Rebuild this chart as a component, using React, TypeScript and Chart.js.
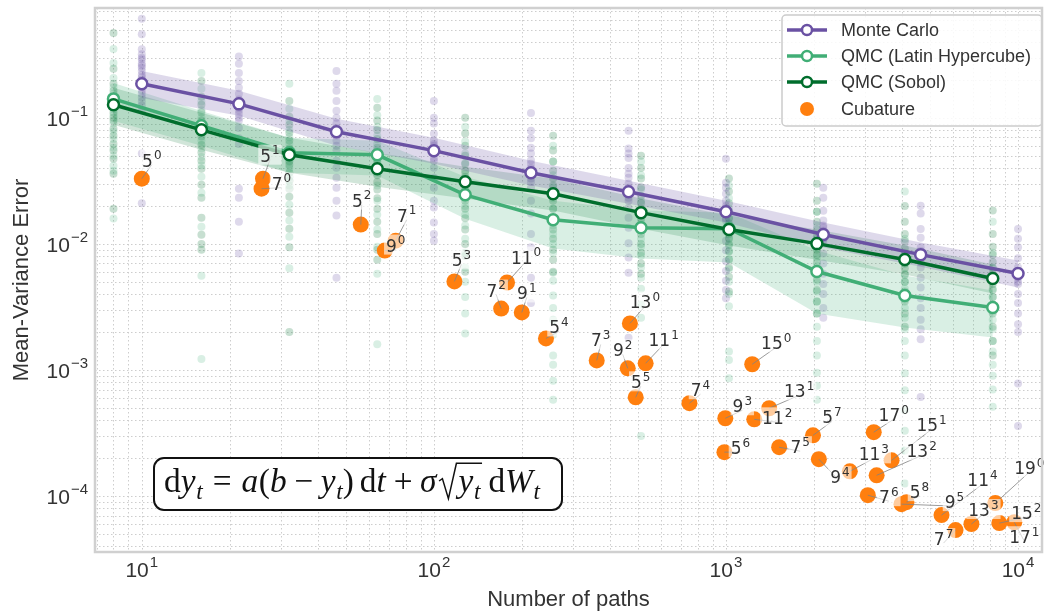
import React, { useEffect, useRef } from "react";
import { Chart, registerables } from "chart.js";

Chart.register(...registerables);

// ---------- axis limits and tick labels ----------
const X_MIN = 6.915;
const X_MAX = 12080;
const Y_MIN = 3.6e-5;
const Y_MAX = 0.743;
const xTickExp = [1, 2, 3, 4];
const yTickExp = [-1, -2, -3, -4];

// ---------- Monte Carlo ----------
const mcPaths = [10, 21.5, 46.4, 100, 215, 464, 1000, 2154, 4642, 10000];
const mcMean = [0.186, 0.129, 0.0775, 0.0549, 0.0367, 0.0259, 0.018, 0.01186, 0.00822, 0.00582];
const mcUpper = [0.2355, 0.1637, 0.0982, 0.0695, 0.0457, 0.0317, 0.022, 0.01476, 0.01024, 0.00738];
const mcLower = [0.1439, 0.1038, 0.06, 0.0432, 0.029, 0.0208, 0.01476, 0.00935, 0.0066, 0.00451];
const mcRuns = [
  [0.61, 0.46, 0.35, 0.32, 0.3, 0.29, 0.27, 0.26, 0.25, 0.235, 0.22, 0.21, 0.2, 0.185, 0.175, 0.165, 0.155, 0.145, 0.135, 0.125, 0.115, 0.052, 0.021],
  [0.306, 0.268, 0.227, 0.196, 0.173, 0.155, 0.14, 0.136, 0.13, 0.12, 0.115, 0.107, 0.1, 0.095, 0.083, 0.069, 0.062, 0.0274, 0.0232, 0.015, 0.0084],
  [0.235, 0.186, 0.164, 0.136, 0.114, 0.1, 0.09, 0.083, 0.078, 0.072, 0.066, 0.06, 0.055, 0.0457, 0.0401, 0.0334, 0.0279, 0.022, 0.0168, 0.0054],
  [0.136, 0.1, 0.09, 0.0748, 0.066, 0.062, 0.06, 0.055, 0.052, 0.048, 0.0457, 0.0401, 0.0334, 0.0279, 0.022, 0.0194, 0.0148, 0.012, 0.0106],
  [0.109, 0.079, 0.069, 0.058, 0.052, 0.046, 0.0433, 0.04, 0.036, 0.033, 0.031, 0.0279, 0.022, 0.0174, 0.012, 0.0094, 0.0054, 0.0034],
  [0.079, 0.057, 0.052, 0.048, 0.04, 0.036, 0.0334, 0.03, 0.0279, 0.026, 0.0232, 0.022, 0.0193, 0.0161, 0.0134, 0.0101, 0.0078, 0.0059, 0.0018],
  [0.0473, 0.0306, 0.0279, 0.025, 0.022, 0.02, 0.0193, 0.018, 0.0174, 0.016, 0.0153, 0.0127, 0.0106, 0.0089, 0.0073, 0.0061, 0.0051, 0.0043, 0.0037],
  [0.0279, 0.0232, 0.0183, 0.0153, 0.014, 0.0135, 0.0127, 0.012, 0.011, 0.0106, 0.0084, 0.007, 0.0058, 0.0048, 0.004, 0.0031, 0.0026],
  [0.0201, 0.0174, 0.0131, 0.0112, 0.0094, 0.0088, 0.0082, 0.0078, 0.0072, 0.0065, 0.0054, 0.0045, 0.0037, 0.0031, 0.0025, 0.0021, 0.00175, 0.00061],
  [0.0131, 0.011, 0.0094, 0.0077, 0.0065, 0.006, 0.0057, 0.0054, 0.005, 0.0048, 0.004, 0.0034, 0.0028, 0.0023, 0.002, 0.00078, 0.00036],
];

// ---------- Quasi Monte Carlo (powers of two) ----------
const qmcPaths = [8, 16, 32, 64, 128, 256, 512, 1024, 2048, 4096, 8192];
const sobolMean = [0.127, 0.0803, 0.0509, 0.0394, 0.0311, 0.025, 0.0177, 0.013, 0.01005, 0.00751, 0.00531];
const sobolUpper = [0.173, 0.1096, 0.0695, 0.0529, 0.0409, 0.0329, 0.0229, 0.0168, 0.013, 0.0097, 0.00685];
const sobolLower = [0.0881, 0.0558, 0.0367, 0.0284, 0.0229, 0.0184, 0.0132, 0.0097, 0.0075, 0.00571, 0.00404];
const lhcMean = [0.1413, 0.0865, 0.0529, 0.0509, 0.0245, 0.01556, 0.01345, 0.0132, 0.00604, 0.0039, 0.00313];
const lhcUpper = [0.189, 0.1135, 0.0695, 0.0658, 0.0341, 0.022, 0.0184, 0.0177, 0.00885, 0.00561, 0.00426];
const lhcLower = [0.0947, 0.06, 0.0367, 0.0348, 0.0158, 0.00918, 0.00766, 0.00712, 0.00281, 0.00217, 0.00181];

const sobolRuns = [
  [0.471, 0.245, 0.186, 0.164, 0.144, 0.13, 0.124, 0.11, 0.1, 0.095, 0.082, 0.072, 0.062, 0.055, 0.0474, 0.036, 0.019],
  [0.196, 0.147, 0.127, 0.11, 0.095, 0.088, 0.082, 0.076, 0.071, 0.061, 0.053, 0.0457, 0.0395, 0.0295, 0.0232, 0.0161, 0.0118, 0.01, 0.009],
  [0.136, 0.102, 0.088, 0.076, 0.066, 0.057, 0.053, 0.049, 0.045, 0.0425, 0.0367, 0.0317, 0.0274, 0.0237, 0.0177, 0.0132, 0.0094, 0.002],
  [0.12, 0.095, 0.08, 0.068, 0.058, 0.05, 0.045, 0.041, 0.038, 0.035, 0.031, 0.027, 0.023, 0.019, 0.015, 0.012, 0.009, 0.0075],
  [0.1, 0.075, 0.06, 0.05, 0.043, 0.038, 0.034, 0.031, 0.028, 0.025, 0.022, 0.019, 0.016, 0.013, 0.01, 0.008, 0.006],
  [0.072, 0.055, 0.045, 0.038, 0.033, 0.029, 0.026, 0.024, 0.022, 0.019, 0.016, 0.013, 0.011, 0.009, 0.0075, 0.006],
  [0.05, 0.04, 0.033, 0.028, 0.024, 0.021, 0.019, 0.0175, 0.016, 0.014, 0.012, 0.01, 0.0085, 0.007, 0.0058],
  [0.033, 0.026, 0.021, 0.018, 0.016, 0.0145, 0.013, 0.012, 0.011, 0.0098, 0.0087, 0.0075, 0.0065, 0.0055, 0.0042],
  [0.03, 0.022, 0.018, 0.015, 0.013, 0.0115, 0.0105, 0.0098, 0.009, 0.0082, 0.0072, 0.0062, 0.0052, 0.0043, 0.0035, 0.0028],
  [0.02, 0.015, 0.012, 0.0105, 0.0092, 0.0083, 0.0076, 0.007, 0.0064, 0.0057, 0.005, 0.0042, 0.0035, 0.0028, 0.0022],
  [0.0184, 0.012, 0.0095, 0.0082, 0.0072, 0.0064, 0.0058, 0.0053, 0.0048, 0.0043, 0.0038, 0.0033, 0.0028, 0.0022, 0.0017, 0.0013],
];
const lhcRuns = [
  [0.352, 0.272, 0.207, 0.175, 0.155, 0.14, 0.13, 0.117, 0.105, 0.09, 0.078, 0.068, 0.058, 0.05, 0.0417, 0.038, 0.0159],
  [0.227, 0.17, 0.135, 0.115, 0.1, 0.09, 0.085, 0.078, 0.066, 0.057, 0.049, 0.042, 0.0341, 0.0255, 0.0137, 0.0056, 0.00122],
  [0.186, 0.118, 0.095, 0.08, 0.07, 0.062, 0.055, 0.05, 0.046, 0.04, 0.034, 0.029, 0.0204, 0.0153, 0.0114, 0.0064],
  [0.141, 0.105, 0.085, 0.072, 0.062, 0.055, 0.05, 0.047, 0.043, 0.036, 0.029, 0.022, 0.017, 0.013, 0.0095, 0.0058, 0.0016],
  [0.085, 0.065, 0.052, 0.044, 0.036, 0.03, 0.026, 0.023, 0.02, 0.017, 0.014, 0.011, 0.0085, 0.0065, 0.005, 0.0038, 0.0028, 0.00195],
  [0.06, 0.045, 0.035, 0.028, 0.023, 0.019, 0.016, 0.014, 0.012, 0.01, 0.0085, 0.0059, 0.0051, 0.0039, 0.0031, 0.0025, 0.0019, 0.0013, 0.0011, 0.00082, 0.00058],
  [0.045, 0.035, 0.027, 0.022, 0.018, 0.015, 0.013, 0.011, 0.0095, 0.008, 0.0065, 0.0054, 0.0044, 0.0033, 0.0026, 0.0003],
  [0.029, 0.023, 0.019, 0.016, 0.014, 0.0125, 0.0112, 0.01, 0.0088, 0.0076, 0.0063, 0.005, 0.004, 0.0032, 0.0014, 0.0012, 0.00086],
  [0.018, 0.014, 0.011, 0.0092, 0.0078, 0.0067, 0.0058, 0.005, 0.0042, 0.0035, 0.0028, 0.0022, 0.0017, 0.0013, 0.00095, 0.00075, 0.00058],
  [0.026, 0.011, 0.0085, 0.007, 0.0058, 0.005, 0.0044, 0.004, 0.0036, 0.0031, 0.0026, 0.0021, 0.0017, 0.0013, 0.00094, 0.00069, 0.00048, 0.00033, 0.00023, 0.000126],
  [0.015, 0.0085, 0.0065, 0.0052, 0.0044, 0.0038, 0.0033, 0.0029, 0.0025, 0.0021, 0.0017, 0.0014, 0.0011, 0.0009, 0.0007, 0.00051],
];

// ---------- Cubature rules: degree^level ----------
const cubDegree = [5, 5, 7, 5, 7, 9, 5, 11, 7, 9, 5, 13, 7, 9, 11, 5, 15, 7, 9, 13, 11, 5, 5, 7, 9, 17, 11, 15, 13, 7, 5, 9, 11, 7, 13, 19, 15, 17];
const cubLevel = [0, 1, 0, 2, 1, 0, 3, 0, 2, 1, 4, 0, 3, 2, 1, 5, 0, 4, 3, 1, 2, 6, 7, 5, 4, 0, 3, 1, 2, 6, 8, 5, 4, 7, 3, 0, 2, 1];
const cubPaths = [10, 26, 25.7, 56.2, 74, 67.9, 117.6, 178, 170, 200, 242, 469, 361, 461, 531, 491, 1230, 750, 995, 1406, 1250, 988, 1986, 1521, 2080, 3206, 2655, 3690, 3280, 3060, 4150, 3990, 5470, 6110, 6925, 8360, 8630, 9710];
const cubError = [0.0329, 0.0329, 0.0274, 0.01422, 0.0106, 0.00885, 0.00504, 0.00494, 0.00307, 0.00286, 0.00178, 0.00234, 0.00119, 0.00103, 0.00113, 0.000607, 0.00111, 0.000545, 0.000414, 0.000497, 0.000406, 0.000223, 0.000303, 0.000244, 0.000196, 0.000321, 0.000157, 0.000192, 0.000146, 0.0001016, 8.95e-5, 8.63e-5, 7.06e-5, 5.37e-5, 6.0e-5, 8.79e-5, 6.1e-5, 6.2e-5];
// annotation text offset from each point, in pixels
const cubLabelOffset = [
  [10, -18], [7, -23], [20, -5], [1, -24], [11, -25], [11, -5], [7, -21], [19, -25], [-5, -18], [5, -19],
  [13, -11], [15, -21], [4, -20], [-5, -18], [18, -23], [5, -15], [24, -21], [11, -13], [17, -12], [30, -17],
  [23, -1], [16, -4], [19, -18], [21, 0], [21, 18], [20, -17], [24, -17], [40, -35], [45, -24], [21, 2],
  [13, -10], [53, -2], [41, -35], [-12, 9], [12, -14], [34, -35], [27, -10], [10, 15],
];

const seriesNames = ["Monte Carlo", "QMC (Latin Hypercube)", "QMC (Sobol)", "Cubature"];
const xTitle = "Number of paths";
const yTitle = "Mean-Variance Error";

// ---------- colours and fonts ----------
const MC_COLOR = "#6a51a3";
const LHC_COLOR = "#41ae76";
const SOBOL_COLOR = "#006d2c";
const CUB_COLOR = "#ff7f0e";
const TEXT = "#333333";
const SANS = '"Liberation Sans", Arial, sans-serif';
const LABEL_SANS = '"DejaVu Sans", sans-serif';
const SERIF = '"Liberation Serif", "DejaVu Serif", serif';

type Align = "left" | "center" | "right";

function drawPower(
  ctx: CanvasRenderingContext2D,
  base: string,
  exp: string,
  x: number,
  y: number,
  baseSize: number,
  supSize: number,
  rise: number,
  align: Align,
  family: string
) {
  ctx.font = `${baseSize}px ${family}`;
  const wb = ctx.measureText(base).width;
  ctx.font = `${supSize}px ${family}`;
  const ws = ctx.measureText(exp).width;
  const total = wb + ws + 1;
  const x0 = align === "left" ? x : align === "center" ? x - total / 2 : x - total;
  ctx.textAlign = "left";
  ctx.textBaseline = "alphabetic";
  ctx.font = `${baseSize}px ${family}`;
  ctx.fillText(base, x0, y);
  ctx.font = `${supSize}px ${family}`;
  ctx.fillText(exp, x0 + wb + 1, y - rise);
  return { x0, total };
}

// equation pieces: roman, italic, subscript, gaps and a square root
type EqItem =
  | { t: string; f: "rm" | "it" | "sub" }
  | { gap: number }
  | { sqrt: EqItem[] };

const equation: EqItem[] = [
  { t: "d", f: "rm" }, { t: "y", f: "it" }, { t: "t", f: "sub" },
  { gap: 0.3 }, { t: "=", f: "rm" }, { gap: 0.3 },
  { t: "a", f: "it" }, { t: "(", f: "rm" }, { t: "b", f: "it" },
  { gap: 0.22 }, { t: "\u2212", f: "rm" }, { gap: 0.22 },
  { t: "y", f: "it" }, { t: "t", f: "sub" }, { t: ")", f: "rm" },
  { gap: 0.18 }, { t: "d", f: "rm" }, { t: "t", f: "it" },
  { gap: 0.22 }, { t: "+", f: "rm" }, { gap: 0.22 },
  { t: "\u03c3", f: "it" }, { gap: 0.06 },
  { sqrt: [{ t: "y", f: "it" }, { t: "t", f: "sub" }] },
  { gap: 0.16 }, { t: "d", f: "rm" }, { t: "W", f: "it" }, { t: "t", f: "sub" },
];

function eqRun(ctx: CanvasRenderingContext2D, items: EqItem[], x: number, base: number, s: number, draw: boolean): number {
  let cx = x;
  for (const it of items) {
    if ("gap" in it) {
      cx += it.gap * s;
    } else if ("sqrt" in it) {
      const inner = eqRun(ctx, it.sqrt, 0, base, s, false);
      const rw = 0.55 * s;
      if (draw) {
        ctx.beginPath();
        ctx.lineWidth = Math.max(1.1, s * 0.045);
        ctx.lineJoin = "miter";
        ctx.moveTo(cx, base - 0.33 * s);
        ctx.lineTo(cx + 0.1 * s, base - 0.4 * s);
        ctx.lineTo(cx + 0.28 * s, base + 0.2 * s);
        ctx.lineTo(cx + 0.52 * s, base - 0.86 * s);
        ctx.lineTo(cx + rw + inner + 0.08 * s, base - 0.86 * s);
        ctx.stroke();
        eqRun(ctx, it.sqrt, cx + rw + 0.03 * s, base, s, true);
      }
      cx += rw + 0.03 * s + inner + 0.08 * s;
    } else {
      let font = `${s}px ${SERIF}`;
      let y = base;
      if (it.f === "it") font = `italic ${s}px ${SERIF}`;
      if (it.f === "sub") {
        font = `italic ${s * 0.7}px ${SERIF}`;
        y = base + 0.2 * s;
      }
      ctx.font = font;
      const w = ctx.measureText(it.t).width;
      if (draw) ctx.fillText(it.t, cx, y);
      cx += w + (it.f === "it" ? 0.02 * s : 0);
    }
  }
  return cx - x;
}

const overlayPlugin = {
  id: "overlay",
  beforeDraw(chart: any) {
    const ctx = chart.ctx as CanvasRenderingContext2D;
    ctx.save();
    ctx.fillStyle = "#ffffff";
    ctx.fillRect(0, 0, chart.width, chart.height);
    ctx.restore();
  },
  beforeDatasetsDraw(chart: any) {
    const ctx = chart.ctx as CanvasRenderingContext2D;
    const { left, right, top, bottom } = chart.chartArea;
    const xs = chart.scales.x;
    const ys = chart.scales.y;
    ctx.save();
    ctx.strokeStyle = "#cdcdcd";
    ctx.lineWidth = 1;
    ctx.setLineDash([1.5, 2.5]);
    for (let e = 0; e <= 4; e++) {
      for (let m = 1; m <= 9; m++) {
        const v = m * Math.pow(10, e);
        if (v < X_MIN || v > X_MAX) continue;
        const px = Math.round(xs.getPixelForValue(v)) + 0.5;
        ctx.beginPath();
        ctx.moveTo(px, top);
        ctx.lineTo(px, bottom);
        ctx.stroke();
      }
    }
    for (let e = -5; e <= 0; e++) {
      for (let m = 1; m <= 9; m++) {
        const v = m * Math.pow(10, e);
        if (v < Y_MIN || v > Y_MAX) continue;
        const py = Math.round(ys.getPixelForValue(v)) + 0.5;
        ctx.beginPath();
        ctx.moveTo(left, py);
        ctx.lineTo(right, py);
        ctx.stroke();
      }
    }
    ctx.restore();
  },
  afterDatasetsDraw(chart: any) {
    const ctx = chart.ctx as CanvasRenderingContext2D;
    const { left, right, top, bottom } = chart.chartArea;
    const xs = chart.scales.x;
    const ys = chart.scales.y;

    // cubature annotations: leader line, then a translucent text box
    ctx.save();
    cubPaths.forEach((n, i) => {
      const px = xs.getPixelForValue(n);
      const py = ys.getPixelForValue(cubError[i]);
      const cx = px + cubLabelOffset[i][0];
      const cy = py + cubLabelOffset[i][1];
      ctx.strokeStyle = "rgba(130,130,130,0.8)";
      ctx.lineWidth = 1;
      ctx.beginPath();
      ctx.moveTo(px, py);
      ctx.lineTo(cx, cy + 4);
      ctx.stroke();
    });
    cubPaths.forEach((n, i) => {
      const px = xs.getPixelForValue(n);
      const py = ys.getPixelForValue(cubError[i]);
      const cx = px + cubLabelOffset[i][0];
      const cy = py + cubLabelOffset[i][1];
      const base = String(cubDegree[i]);
      const exp = String(cubLevel[i]);
      ctx.font = `17px ${LABEL_SANS}`;
      const wb = ctx.measureText(base).width;
      ctx.font = `12px ${LABEL_SANS}`;
      const ws = ctx.measureText(exp).width;
      const total = wb + ws + 1;
      ctx.fillStyle = "rgba(255,255,255,0.6)";
      ctx.fillRect(cx - total / 2 - 2, cy - 11, total + 4, 20);
      ctx.fillStyle = TEXT;
      drawPower(ctx, base, exp, cx, cy + 6, 17, 12, 7.5, "center", LABEL_SANS);
    });
    ctx.restore();

    // equation box
    ctx.save();
    const bx = 154, by = 458, bw = 408, bh = 52;
    ctx.beginPath();
    ctx.roundRect(bx, by, bw, bh, 10);
    ctx.fillStyle = "#ffffff";
    ctx.fill();
    ctx.lineWidth = 2;
    ctx.strokeStyle = "#111111";
    ctx.stroke();
    ctx.fillStyle = "#111111";
    ctx.strokeStyle = "#111111";
    ctx.textAlign = "left";
    ctx.textBaseline = "alphabetic";
    const natural = eqRun(ctx, equation, 0, 0, 26, false);
    const size = (26 * 376) / natural;
    eqRun(ctx, equation, 164, 492, size, true);
    ctx.restore();

    // legend
    ctx.save();
    ctx.beginPath();
    ctx.roundRect(782, 15, 260, 111, 4);
    ctx.fillStyle = "rgba(255,255,255,0.85)";
    ctx.fill();
    ctx.lineWidth = 1.5;
    ctx.strokeStyle = "#cccccc";
    ctx.stroke();
    const rows = [30, 56, 82, 109];
    const lineColors = [MC_COLOR, LHC_COLOR, SOBOL_COLOR];
    lineColors.forEach((c, i) => {
      ctx.beginPath();
      ctx.strokeStyle = c;
      ctx.lineWidth = 3.5;
      ctx.moveTo(787, rows[i]);
      ctx.lineTo(827, rows[i]);
      ctx.stroke();
      ctx.beginPath();
      ctx.arc(807, rows[i], 5, 0, Math.PI * 2);
      ctx.fillStyle = "#ffffff";
      ctx.fill();
      ctx.lineWidth = 2.5;
      ctx.stroke();
    });
    ctx.beginPath();
    ctx.arc(807, rows[3], 7, 0, Math.PI * 2);
    ctx.fillStyle = CUB_COLOR;
    ctx.fill();
    ctx.fillStyle = TEXT;
    ctx.font = `18px ${SANS}`;
    ctx.textAlign = "left";
    ctx.textBaseline = "middle";
    seriesNames.forEach((s, i) => ctx.fillText(s, 841, rows[i] + 1));
    ctx.restore();

    // axes frame
    ctx.save();
    ctx.strokeStyle = "#d0d0d0";
    ctx.lineWidth = 2.5;
    ctx.strokeRect(left, top, right - left, bottom - top);
    ctx.restore();

    // tick labels
    ctx.save();
    ctx.fillStyle = TEXT;
    xTickExp.forEach((e) => {
      const px = xs.getPixelForValue(Math.pow(10, e));
      drawPower(ctx, "10", String(e), px, 577, 21, 15, 10, "center", SANS);
    });
    yTickExp.forEach((e) => {
      const py = ys.getPixelForValue(Math.pow(10, e));
      drawPower(ctx, "10", "\u2212" + String(-e), 88, py + 8, 21, 15, 10, "right", SANS);
    });
    // axis titles
    ctx.font = `22px ${SANS}`;
    ctx.textAlign = "center";
    ctx.textBaseline = "middle";
    ctx.fillText(xTitle, (left + right) / 2, 600);
    ctx.translate(22, (top + bottom) / 2);
    ctx.rotate(-Math.PI / 2);
    ctx.fillText(yTitle, 0, 0);
    ctx.restore();
  },
};

function pts(xsArr: number[], ysArr: number[]) {
  return xsArr.map((x, i) => ({ x, y: ysArr[i] }));
}

function cloud(xsArr: number[], runs: number[][]) {
  const out: { x: number; y: number }[] = [];
  runs.forEach((col, i) => col.forEach((v) => out.push({ x: xsArr[i], y: v })));
  return out;
}

function band(xsArr: number[], upper: number[], lower: number[], fillColor: string) {
  return [
    {
      type: "line",
      data: pts(xsArr, upper),
      borderColor: "rgba(0,0,0,0)",
      borderWidth: 0,
      pointRadius: 0,
      fill: "+1",
      backgroundColor: fillColor,
      tension: 0,
      order: 5,
    },
    {
      type: "line",
      data: pts(xsArr, lower),
      borderColor: "rgba(0,0,0,0)",
      borderWidth: 0,
      pointRadius: 0,
      fill: false,
      tension: 0,
      order: 5,
    },
  ];
}

function meanLine(xsArr: number[], ysArr: number[], color: string, order: number) {
  return {
    type: "line",
    data: pts(xsArr, ysArr),
    borderColor: color,
    borderWidth: 3.5,
    pointRadius: 5.5,
    pointBackgroundColor: "#ffffff",
    pointBorderColor: color,
    pointBorderWidth: 2.5,
    fill: false,
    tension: 0,
    order,
  };
}

function runsScatter(xsArr: number[], runs: number[][], color: string) {
  return {
    type: "scatter",
    data: cloud(xsArr, runs),
    backgroundColor: color,
    borderWidth: 0,
    pointRadius: 4,
    showLine: false,
    order: 10,
  };
}

export default function App() {
  const canvasRef = useRef<HTMLCanvasElement | null>(null);

  useEffect(() => {
    if (!canvasRef.current) return;
    const datasets: any[] = [
      meanLine(mcPaths, mcMean, MC_COLOR, 3),
      meanLine(qmcPaths, lhcMean, LHC_COLOR, 2),
      meanLine(qmcPaths, sobolMean, SOBOL_COLOR, 1),
      {
        type: "scatter",
        data: pts(cubPaths, cubError),
        backgroundColor: CUB_COLOR,
        borderWidth: 0,
        pointRadius: 8,
        showLine: false,
        order: 0,
      },
      ...band(mcPaths, mcUpper, mcLower, "rgba(106,81,163,0.22)"),
      ...band(qmcPaths, lhcUpper, lhcLower, "rgba(65,174,118,0.2)"),
      ...band(qmcPaths, sobolUpper, sobolLower, "rgba(0,109,44,0.18)"),
      runsScatter(mcPaths, mcRuns, "rgba(106,81,163,0.22)"),
      runsScatter(qmcPaths, lhcRuns, "rgba(65,174,118,0.2)"),
      runsScatter(qmcPaths, sobolRuns, "rgba(0,109,44,0.22)"),
    ];
    const chart = new Chart(canvasRef.current, {
      type: "line",
      data: { datasets },
      options: {
        animation: false,
        responsive: false,
        devicePixelRatio: 1,
        events: [],
        layout: { padding: { left: 95, top: 7, right: 4, bottom: 61 } },
        plugins: { legend: { display: false }, tooltip: { enabled: false } },
        scales: {
          x: { type: "logarithmic", min: X_MIN, max: X_MAX, bounds: "data", display: false },
          y: { type: "logarithmic", min: Y_MIN, max: Y_MAX, bounds: "data", display: false },
        },
      },
      plugins: [overlayPlugin],
    } as any);
    return () => chart.destroy();
  }, []);

  return (
    <div style={{ position: "absolute", left: 0, top: 0, width: 1050, height: 613, background: "#ffffff" }}>
      <canvas ref={canvasRef} width={1050} height={613} style={{ display: "block" }} />
    </div>
  );
}
